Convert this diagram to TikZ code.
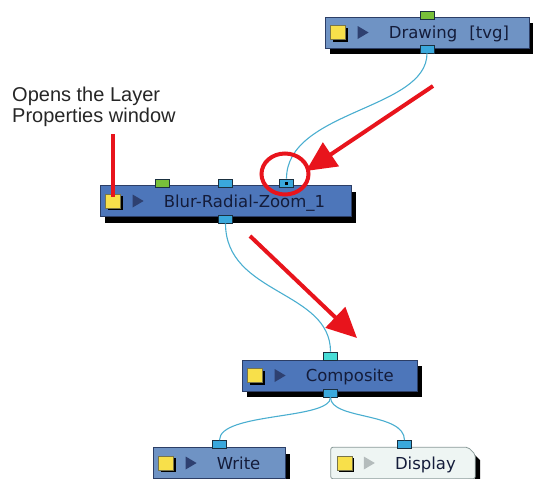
\documentclass[tikz,border=0pt]{standalone}
\usepackage{fontspec}
\setmainfont{DejaVu Sans}
\newfontfamily\labelfont{Liberation Sans}
\usetikzlibrary{shadows,arrows.meta,calc,shapes.geometric}

\definecolor{modA}{HTML}{4D76BA}
\definecolor{modB}{HTML}{6F93C4}
\definecolor{modborder}{HTML}{2C3E66}
\definecolor{modtext}{HTML}{141C3A}
\definecolor{tri}{HTML}{2E4070}
\definecolor{trigray}{HTML}{B4BCBC}
\definecolor{dispfill}{HTML}{EEF5F3}
\definecolor{dispborder}{HTML}{8A9A98}
\definecolor{portgreen}{HTML}{78C03A}
\definecolor{portblue}{HTML}{3AA8DC}
\definecolor{portcyan}{HTML}{46DCD6}
\definecolor{portborder}{HTML}{1A3040}
\definecolor{wire}{HTML}{4AAED0}
\definecolor{annot}{HTML}{E8141C}
\definecolor{yellowbox}{HTML}{F8E04A}

\tikzset{
  modbase/.style={minimum height=31pt, inner sep=0pt},
  module/.style={modbase, draw=modborder, line width=0.8pt,
    drop shadow={shadow xshift=5pt, shadow yshift=-6pt, fill=black, opacity=1}},
  bluemod/.style={module, fill=modA},
  lightmod/.style={module, fill=modB},
  dispmod/.style={modbase},
  dispshape/.style={fill=dispfill, draw=dispborder, line width=0.8pt, rounded corners=2pt},
  port/.style={draw=portborder, line width=0.7pt, minimum width=14pt, minimum height=8pt, inner sep=0pt},
  wireline/.style={draw=wire, line width=1.1pt},
  annotline/.style={draw=annot, line width=4pt},
  annotarrow/.style={annotline, -{Triangle[length=30pt,width=28pt]}},
  modlabel/.style={anchor=base west, inner sep=0pt, text=modtext, font=\fontsize{16.5}{18}\selectfont},
}

% #1 name, #2 center, #3 width, #4 style, #5 triangle colour, #6 text
\newcommand\mkmodule[6]{%
  \node[#4, minimum width=#3] (#1) at (#2) {};
  \fill[black] ($(#1.west)+(8,-9)$) rectangle ($(#1.west)+(23,5)$);
  \filldraw[fill=yellowbox, draw=black!60!yellow, line width=0.5pt]
    ($(#1.west)+(6,-7)$) rectangle ($(#1.west)+(21,7)$);
  \fill[#5] ($(#1.west)+(33,6.5)$) -- ($(#1.west)+(33,-6.5)$) -- ($(#1.west)+(44,0)$) -- cycle;
  \node[modlabel] (#1-text) at ($(#1.west)+(64,-6)$) {#6};
}

\begin{document}
\begin{tikzpicture}[x=1pt,y=1pt]
\useasboundingbox (0,0) rectangle (533,-479);

% modules
\mkmodule{drawing}{427,-32.5}{204pt}{lightmod}{tri}{Drawing\hspace{12pt}[tvg]}
\mkmodule{blur}{225.5,-201}{251pt}{bluemod}{tri}{Blur-Radial-Zoom\_1}
\mkmodule{comp}{329.5,-375.5}{175pt}{bluemod}{tri}{Composite}
\mkmodule{write}{219,-463}{132pt}{lightmod}{tri}{Write}

% display module: chamfered top-right corner
\node[dispmod, minimum width=144pt] (disp) at (403,-463) {};
\fill[black] ($(disp.south west)+(5,-6)$) -- ($(disp.south east)+(5,-6)$)
   -- ($(disp.north east)+(5,-13)$) -- ($(disp.north east)+(0,-8)$) -- (disp.south east) -- cycle;
\filldraw[dispshape] (disp.south west) -- (disp.north west) -- ($(disp.north east)+(-7,0)$)
   -- ($(disp.north east)+(0,-7)$) -- (disp.south east) -- cycle;
\fill[black] ($(disp.west)+(8,-9)$) rectangle ($(disp.west)+(23,5)$);
\filldraw[fill=yellowbox, draw=black!60!yellow, line width=0.5pt]
  ($(disp.west)+(6,-7)$) rectangle ($(disp.west)+(21,7)$);
\fill[trigray] ($(disp.west)+(33,6.5)$) -- ($(disp.west)+(33,-6.5)$) -- ($(disp.west)+(44,0)$) -- cycle;
\node[modlabel] (disp-text) at ($(disp.west)+(64,-6)$) {Display};

% ports
\node[port, fill=portgreen] (drawin) at (427,-15) {};
\node[port, fill=portblue] (drawout) at (427,-49) {};
\node[port, fill=portgreen] (blurinA) at (162,-183) {};
\node[port, fill=portblue] (blurinB) at (225.5,-183) {};
\node[port, fill=portblue] (blurinC) at (286.5,-183) {};
\fill[black] ($(blurinC.center)+(-1.5,-1.5)$) rectangle ($(blurinC.center)+(1.5,1.5)$);
\node[port, fill=portblue] (blurout) at (225.5,-219) {};
\node[port, fill=portcyan] (compin) at (330.5,-356) {};
\node[port, fill=portblue] (compout) at (330.5,-393) {};
\node[port, fill=portblue] (writein) at (219.5,-444.5) {};
\node[port, fill=portblue] (dispin) at (404.5,-444.5) {};

% wires
\draw[wireline] (drawout.south) .. controls (427,-110) and (286.5,-110) .. (blurinC.north);
\draw[wireline] (blurout.south) .. controls (225.5,-295) and (330.5,-290) .. (compin.north);
\draw[wireline] (compout.south) .. controls (330.5,-420) and (219.5,-412) .. (writein.north);
\draw[wireline] (compout.south) .. controls (330.5,-420) and (404.5,-412) .. (dispin.north);

% annotation
\node[anchor=north west, inner sep=0pt, align=left, text=black!85,
      font=\labelfont\fontsize{20}{21}\selectfont] (note) at (12,-87)
      {Opens the Layer\\Properties window};
\coordinate (notetop) at (113,-134);
\coordinate (noteend) at (113,-197);
\draw[annotline] (notetop) -- (noteend);

\node[draw=annot, line width=4pt, ellipse, minimum width=47pt, minimum height=41pt] (ring) at (285,-174) {};

\coordinate (a1s) at (433,-86);
\coordinate (a1e) at (306,-171);
\draw[annotarrow] (a1s) -- (a1e);
\coordinate (a2s) at (250,-236);
\coordinate (a2e) at (357,-338);
\draw[annotarrow] (a2s) -- (a2e);
\end{tikzpicture}
\end{document}
